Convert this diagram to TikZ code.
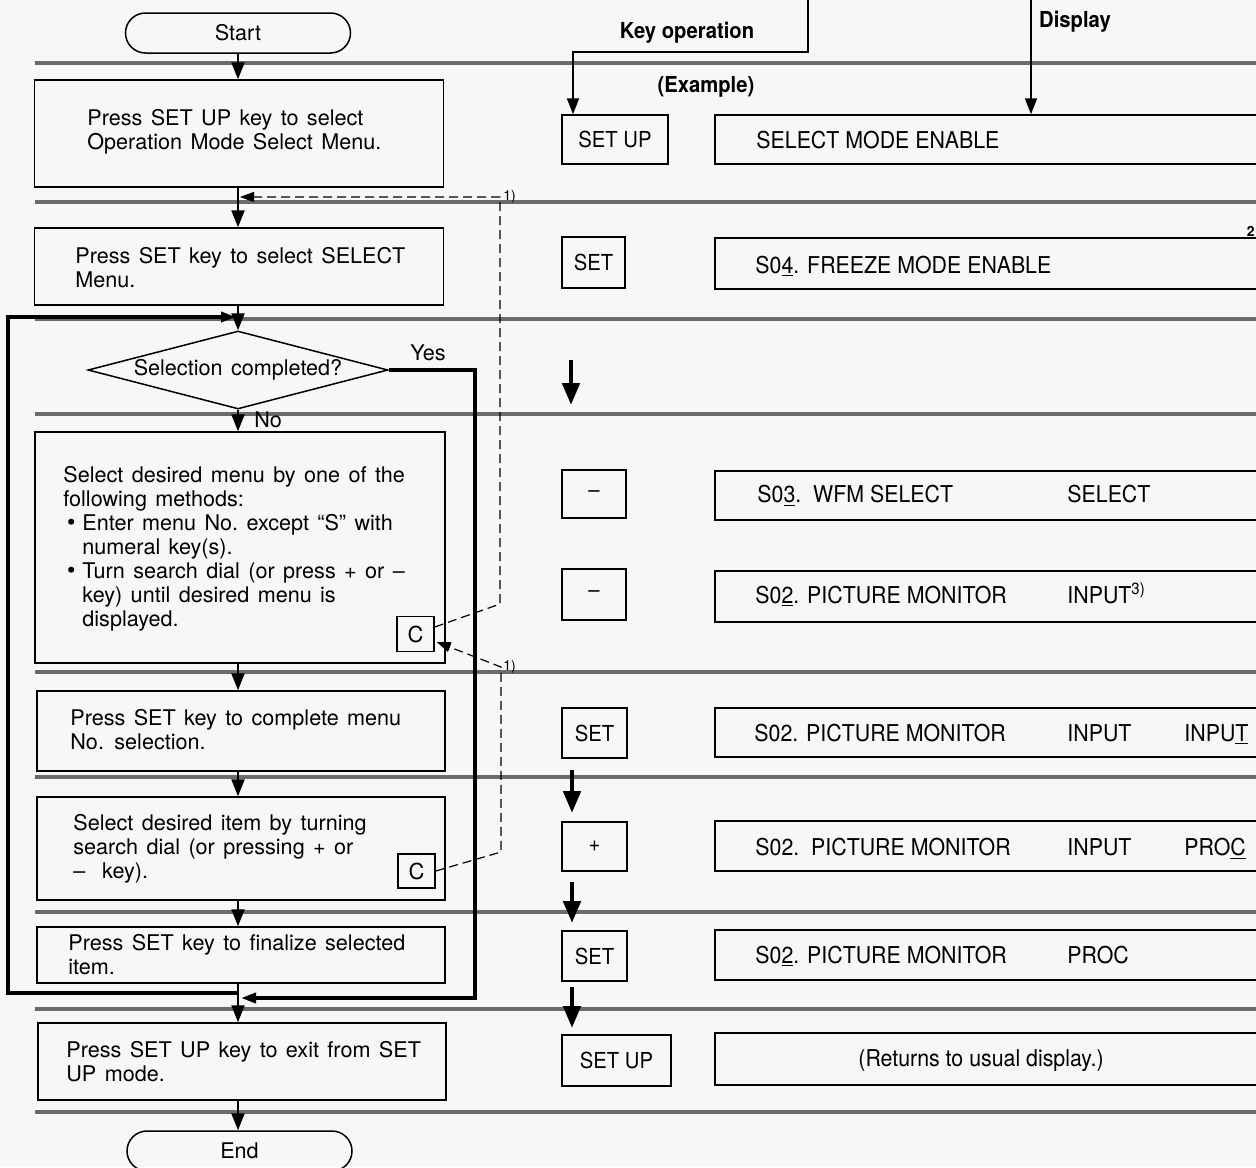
\documentclass[tikz,border=0pt]{standalone}
\usepackage{fontspec}
\setmainfont[WordSpace=1.4]{TeX Gyre Heros}
\newfontfamily\cond[FakeStretch=0.92]{TeX Gyre Heros}
\usetikzlibrary{arrows.meta,shapes.geometric,calc}
\newcommand\ulc[1]{\underline{#1}}
\begin{document}
\begin{tikzpicture}[x=0.5pt,y=-0.5pt,
  band/.style={line width=2.4pt,draw=black!58},
  box/.style={draw,line width=0.75pt,inner sep=0pt},
  term/.style={box,minimum width=112.5pt,minimum height=20pt,rounded corners=10pt,font=\fontsize{10.8}{12}\selectfont},
  txt/.style={inner sep=0pt,align=left,anchor=west,font=\fontsize{10.8}{12}\selectfont},
  flow/.style={line width=1.1pt,-{Triangle[length=8.5pt,width=6.5pt]}},
  loopl/.style={line width=1.8pt},
  looparr/.style={loopl,-{Triangle[length=7.5pt,width=5pt]}},
  dsh/.style={line width=0.6pt,dash pattern=on 4.5pt off 2.5pt},
  dsharr/.style={dsh,-{Triangle[length=7pt,width=5pt]}},
  cbox/.style={box,minimum width=18.5pt,minimum height=17.5pt,font=\fontsize{11}{12}\selectfont},
  note/.style={inner sep=0pt,anchor=west,font=\fontsize{7}{8}\selectfont},
  key/.style={box,font=\cond\fontsize{11}{12}\selectfont},
  disp/.style={box,minimum width=292.5pt},
  dtx/.style={inner sep=0pt,anchor=base west,font=\cond\fontsize{11.6}{13}\selectfont},
  head/.style={inner sep=0pt,font=\cond\bfseries\fontsize{11}{12}\selectfont},
  conn/.style={line width=0.9pt,-{Triangle[length=8pt,width=6pt]}},
  bigarr/.style={line width=2.4pt,-{Triangle[length=11pt,width=8.5pt]}}
]
\useasboundingbox (0,0) rectangle (1256,1167);
\fill[black!3] (0,0) rectangle (1256,1167);

% grey bands
\foreach \yy in {63,202,319,414,672,777,912,1009,1112}
  \draw[band] (35,\yy) -- (1270,\yy);

% ---------- flowchart ----------
\coordinate (mx) at (238,0);
\node[term] (start) at (238,33) {Start};
\node[box,minimum width=204.5pt,minimum height=53.5pt] (b1) at (239,133.5) {};
\node[txt] (t1) at (87,132) {Press SET UP key to select\\Operation Mode Select Menu.};
\node[box,minimum width=204.5pt,minimum height=38.5pt] (b2) at (239,266.5) {};
\node[txt] (t2) at (75,267.5) {Press SET key to select SELECT\\Menu.};
\node[draw,diamond,aspect=3.85,minimum width=150pt,minimum height=39pt,inner sep=0pt,line width=0.75pt,font=\fontsize{10.8}{12}\selectfont] (dia) at (238,370) {Selection completed?};
\node[txt] (yes) at (410,353) {Yes};
\node[txt] (no) at (254,420) {No};
\node[box,minimum width=205pt,minimum height=115.5pt] (b3) at (240,547.5) {};
\node[txt] (t3) at (63,548.5) {Select desired menu by one of the\\following methods:\\\makebox[9.5pt][l]{\,{\large\textbullet}}Enter menu No.\ except “S” with\\\hspace*{9.5pt}numeral key(s).\\\makebox[9.5pt][l]{\,{\large\textbullet}}Turn search dial (or press + or –\\\hspace*{9.5pt}key) until desired menu is\\\hspace*{9.5pt}displayed.};
\node[cbox] (c3) at (415.5,634) {C};
\node[box,minimum width=204pt,minimum height=40pt] (b4) at (241,731) {};
\node[txt] (t4) at (70,730) {Press SET key to complete menu\\No. selection.};
\node[box,minimum width=204pt,minimum height=51.5pt] (b5) at (241,848.5) {};
\node[txt] (t5) at (73,849) {Select desired item by turning\\search dial (or pressing + or\\–\ \ key).};
\node[cbox,minimum height=17pt] (c5) at (416.5,871) {C};
\node[box,minimum width=204pt,minimum height=28pt] (b6) at (241,955) {};
\node[txt] (t6) at (68,955) {Press SET key to finalize selected\\item.};
\node[box,minimum width=204pt,minimum height=38.5pt] (b7) at (242,1061.5) {};
\node[txt] (t7) at (66,1062) {Press SET UP key to exit from SET\\UP mode.};
\node[term] (end) at (239.5,1151) {End};

% main flow
\draw[flow] (start.south) -- (start.south |- b1.north);
\draw[flow] (b1.south -| mx) -- (b2.north -| mx);
\draw[flow] (b2.south -| mx) -- (dia.north);
\draw[flow] (dia.south) -- (b3.north -| mx);
\draw[flow] (b3.south -| mx) -- (b4.north -| mx);
\draw[flow] (b4.south -| mx) -- (b5.north -| mx);
\draw[flow] (b5.south -| mx) -- (b6.north -| mx);
\draw[flow] (b6.south -| mx) -- (b7.north -| mx);
\draw[flow] (b7.south -| mx) -- (end.north -| mx);

% loop back
\coordinate (lb) at (238,993);
\coordinate (lc1) at (8,993);
\coordinate (lc2) at (8,317);
\coordinate (lt) at (236,317);
\draw[looparr] (lb) -- (lc1) -- (lc2) -- (lt);

% yes branch
\coordinate (yc) at (475,998);
\coordinate (yt) at (241,998);
\draw[looparr] (dia.east) -| (yc) -- (yt);

% dashed returns
\coordinate (d1a) at (500,604);
\coordinate (d1b) at (500,197);
\coordinate (d1t) at (240,197);
\draw[dsharr] ($(c3.east)+(0,-7)$) -- (d1a) -- (d1b) -- (d1t);
\node[note] (n1) at (503,197) {1)};
\coordinate (d2a) at (501,852);
\coordinate (d2b) at (501,667);
\draw[dsharr] (c5.east) -- (d2a) -- (d2b) -- ($(c3.east)+(2,8)$);
\node[note] (n2) at (503,667) {1)};

% ---------- right side ----------
\node[head] (kol) at (687,33) {Key operation};
\node[head] (dl) at (1075,22) {Display};
\node[head] (ex) at (706,87) {(Example)};

\node[key,minimum width=53pt,minimum height=24.5pt] (k1) at (615,139.5) {SET UP};
\node[key,minimum width=31.5pt,minimum height=25.5pt] (k2) at (593.5,262.5) {SET};
\node[key,minimum width=32pt,minimum height=24pt] (k3) at (594,494) {–};
\node[key,minimum width=32pt,minimum height=25.5pt] (k4) at (594,594.5) {–};
\node[key,minimum width=32.5pt,minimum height=25pt] (k5) at (594.5,733) {SET};
\node[key,minimum width=32.5pt,minimum height=24.5pt] (k6) at (594.5,846.5) {+};
\node[key,minimum width=32.5pt,minimum height=25pt] (k7) at (594.5,956) {SET};
\node[key,minimum width=54.5pt,minimum height=25.5pt] (k8) at (616.5,1060.5) {SET UP};

\node[disp,minimum height=24.5pt] (d1) at (1007.5,139.5) {};
\node[disp,minimum height=25.5pt] (d2) at (1007.5,263.5) {};
\node[disp,minimum height=24.5pt] (d3) at (1007.5,495.5) {};
\node[disp,minimum height=25.5pt] (d4) at (1007.5,596.5) {};
\node[disp,minimum height=24.5pt] (d5) at (1007.5,732.5) {};
\node[disp,minimum height=25pt] (d6) at (1007.5,846) {};
\node[disp,minimum height=25pt] (d7) at (1007.5,955) {};
\node[disp,minimum height=26pt] (d8) at (1007.5,1059) {};

\coordinate (kop) at (808,0);
\coordinate (kb) at (573,52);
\draw[conn] (kop) |- (kb) -- (kb |- k1.north);
\coordinate (dop) at (1031,0);
\draw[conn] (dop) -- (dop |- d1.north);

\node[dtx] (s1) at (756,148) {SELECT MODE ENABLE};
\node[dtx] (s2) at (755,273) {S0\ulc{4}. FREEZE MODE ENABLE};
\node[inner sep=0pt,anchor=east,font=\bfseries\fontsize{7}{8}\selectfont] (n3) at (1255,231) {2};
\node[dtx] (s3) at (757,502) {S0\ulc{3}.\ \ WFM SELECT};
\node[dtx] (s3b) at (1067,502) {SELECT};
\node[dtx] (s4) at (755,603) {S0\ulc{2}. PICTURE MONITOR};
\node[dtx] (s4b) at (1067,603) {INPUT\textsuperscript{3)}};
\node[dtx] (s5) at (754,741) {S02. PICTURE MONITOR};
\node[dtx] (s5b) at (1067,741) {INPUT};
\node[dtx] (s5c) at (1184,741) {INPU\ulc{T}};
\node[dtx] (s6) at (755,855) {S02.\ \ PICTURE MONITOR};
\node[dtx] (s6b) at (1067,855) {INPUT};
\node[dtx] (s6c) at (1184,855) {PRO\ulc{C}};
\node[dtx] (s7) at (755,963) {S0\ulc{2}. PICTURE MONITOR};
\node[dtx] (s7b) at (1067,963) {PROC};
\node[dtx,anchor=base] (s8) at (981,1066) {(Returns to usual display.)};

% thick arrows between key steps
\coordinate (a1s) at (571,360); \coordinate (a1e) at (571,405);
\coordinate (a2s) at (572,770); \coordinate (a2e) at (572,813);
\coordinate (a3s) at (572,882); \coordinate (a3e) at (572,923);
\coordinate (a4s) at (572,987); \coordinate (a4e) at (572,1028);
\draw[bigarr] (a1s) -- (a1e);
\draw[bigarr] (a2s) -- (a2e);
\draw[bigarr] (a3s) -- (a3e);
\draw[bigarr] (a4s) -- (a4e);
\end{tikzpicture}
\end{document}
